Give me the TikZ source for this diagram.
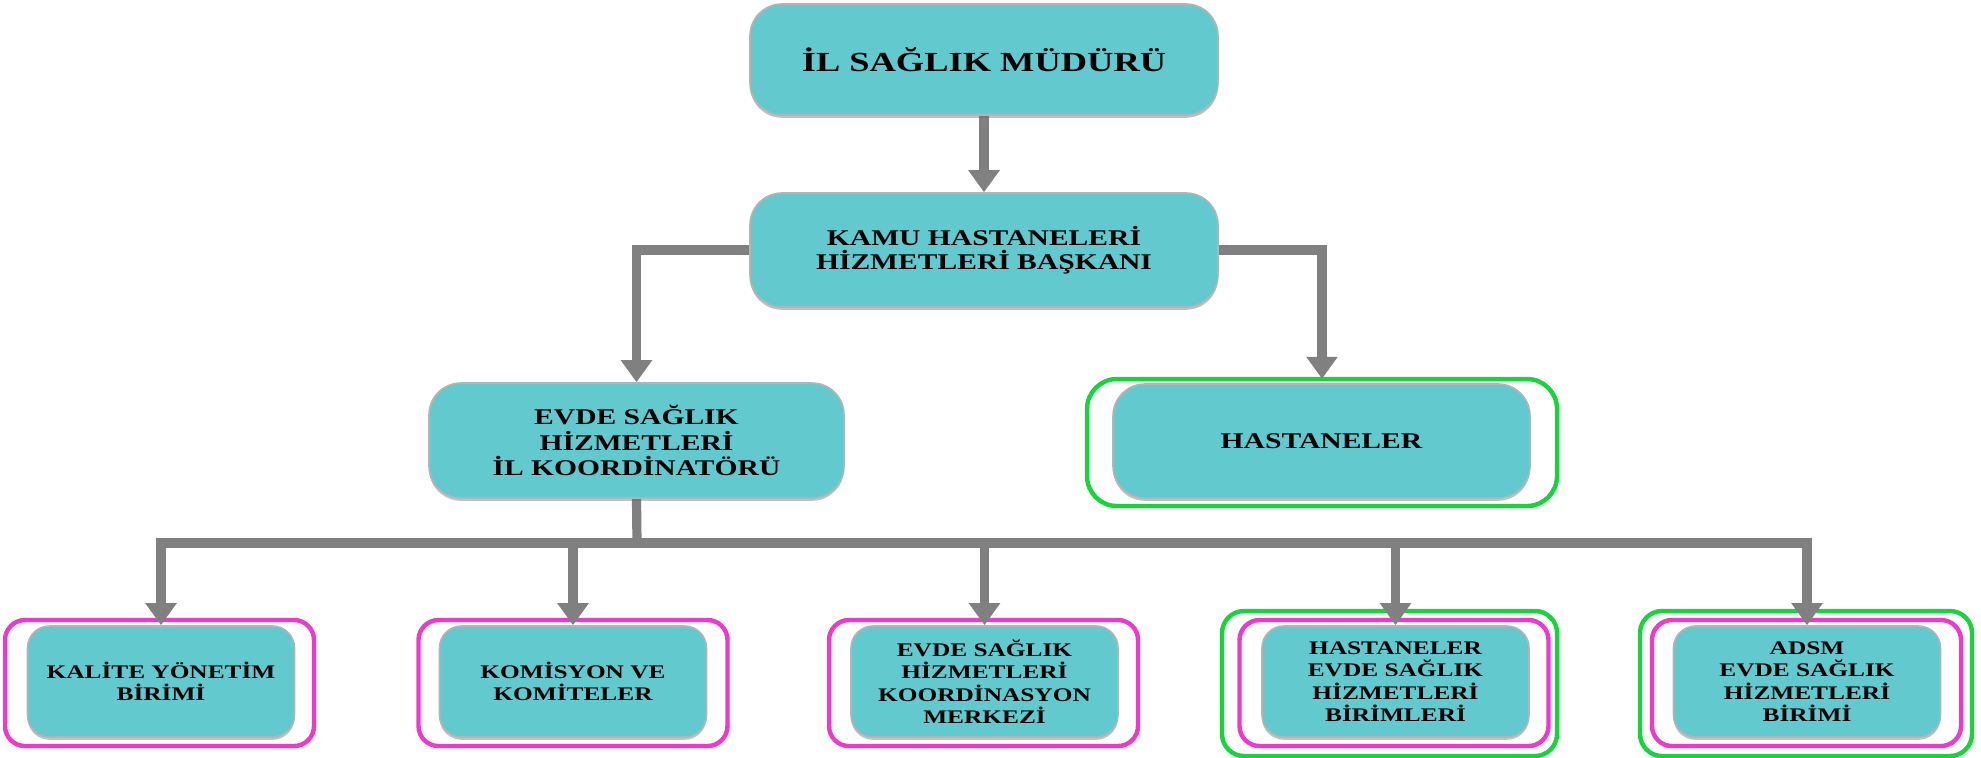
\documentclass[tikz,border=0pt]{standalone}
\usepackage{fontspec}
\setmainfont{Liberation Serif}[FakeStretch=1.32]
\usetikzlibrary{arrows.meta,shadows,backgrounds}
\definecolor{boxfill}{HTML}{62C9CE}
\definecolor{boxedge}{HTML}{B4B4B4}
\definecolor{conngray}{HTML}{808080}
\definecolor{pinkc}{HTML}{EE3ACC}
\definecolor{greenc}{HTML}{16D43A}
\tikzset{
  box/.style={draw=boxedge, line width=0.8pt, fill=boxfill, align=center, inner sep=0pt,
    drop shadow={shadow xshift=0pt, shadow yshift=-1.4pt, opacity=0.4, fill=black!60}},
  bigbox/.style={box, rounded corners=16pt},
  smallbox/.style={box, rounded corners=11pt, minimum width=133.5pt, minimum height=55.5pt,
    font=\fontsize{9.6}{11.2}\selectfont\bfseries},
  pinkframe/.style={draw=pinkc, line width=2.2pt, rounded corners=10pt, minimum width=154.5pt, minimum height=63pt, inner sep=0pt},
  greenframe/.style={draw=greenc, line width=2.2pt, rounded corners=11pt, inner sep=0pt},
  conn/.style={draw=conngray, line width=4.6pt, -{Triangle[width=15pt,length=11pt]}},
  plainline/.style={draw=conngray, line width=4.6pt},
}
\begin{document}
\begin{tikzpicture}[x=0.5pt,y=-0.5pt]
\useasboundingbox (0,0) rectangle (1981,757);
% main boxes
\node[bigbox, minimum width=234pt, minimum height=55.5pt, font=\fontsize{13.8}{16}\selectfont\bfseries] (b1) at (984,59.5) {İL SAĞLIK MÜDÜRÜ};
\node[bigbox, minimum width=234pt, minimum height=57pt, font=\fontsize{11.2}{12.2}\selectfont\bfseries] (b2) at (984,250) {KAMU HASTANELERİ\\HİZMETLERİ BAŞKANI};
\node[bigbox, minimum width=207.5pt, minimum height=57.5pt, font=\fontsize{11.2}{12.8}\selectfont\bfseries] (b3) at (636.5,440.5) {EVDE SAĞLIK\\HİZMETLERİ\\İL KOORDİNATÖRÜ};
\node[bigbox, minimum width=208.5pt, minimum height=57pt, font=\fontsize{11.2}{12.8}\selectfont\bfseries] (hast) at (1321.5,441) {HASTANELER};
% bottom boxes
\node[smallbox] (k1) at (161,681.5) {KALİTE YÖNETİM\\BİRİMİ};
\node[smallbox] (k2) at (573,681.5) {KOMİSYON VE\\KOMİTELER};
\node[smallbox] (k3) at (984.5,681.5) {EVDE SAĞLIK\\HİZMETLERİ\\KOORDİNASYON\\MERKEZİ};
\node[smallbox] (k4) at (1395.5,681.5) {HASTANELER\\EVDE SAĞLIK\\HİZMETLERİ\\BİRİMLERİ};
\node[smallbox] (k5) at (1807,681.5) {ADSM\\EVDE SAĞLIK\\HİZMETLERİ\\BİRİMİ};
\coordinate (bar) at (637,543);
\begin{pgfonlayer}{background}
% frames
\node[greenframe, rounded corners=15pt, minimum width=235pt, minimum height=63.5pt] (hastf) at (1322,442.5) {};
\node[pinkframe] (p1) at (159.5,683) {};
\node[pinkframe] (p2) at (573,683) {};
\node[pinkframe] (p3) at (983.5,683) {};
\node[pinkframe] (p4) at (1394,683) {};
\node[pinkframe] (p5) at (1806.5,683) {};
\node[greenframe, minimum width=167.5pt, minimum height=72.5pt] (g4) at (1389.5,683.5) {};
\node[greenframe, minimum width=166pt, minimum height=72.5pt] (g5) at (1806,683.5) {};
% connectors
\draw[conn] (b1.south) -- (b2.north);
\draw[conn, line cap=round] (b2.west) -| (b3.north);
\draw[conn, line cap=round] (b2.east) -| ([yshift=-1pt]hastf.north);
\draw[plainline] (b3.south) -- (bar);
\draw[plainline, line cap=rect] (k1.north |- bar) -- (k5.north |- bar);
\draw[conn] (k1.north |- bar) -- (k1.north);
\draw[conn] (k2.north |- bar) -- (k2.north);
\draw[conn] (k3.north |- bar) -- (k3.north);
\draw[conn] (k4.north |- bar) -- (k4.north);
\draw[conn] (k5.north |- bar) -- (k5.north);
\end{pgfonlayer}
\end{tikzpicture}
\end{document}
